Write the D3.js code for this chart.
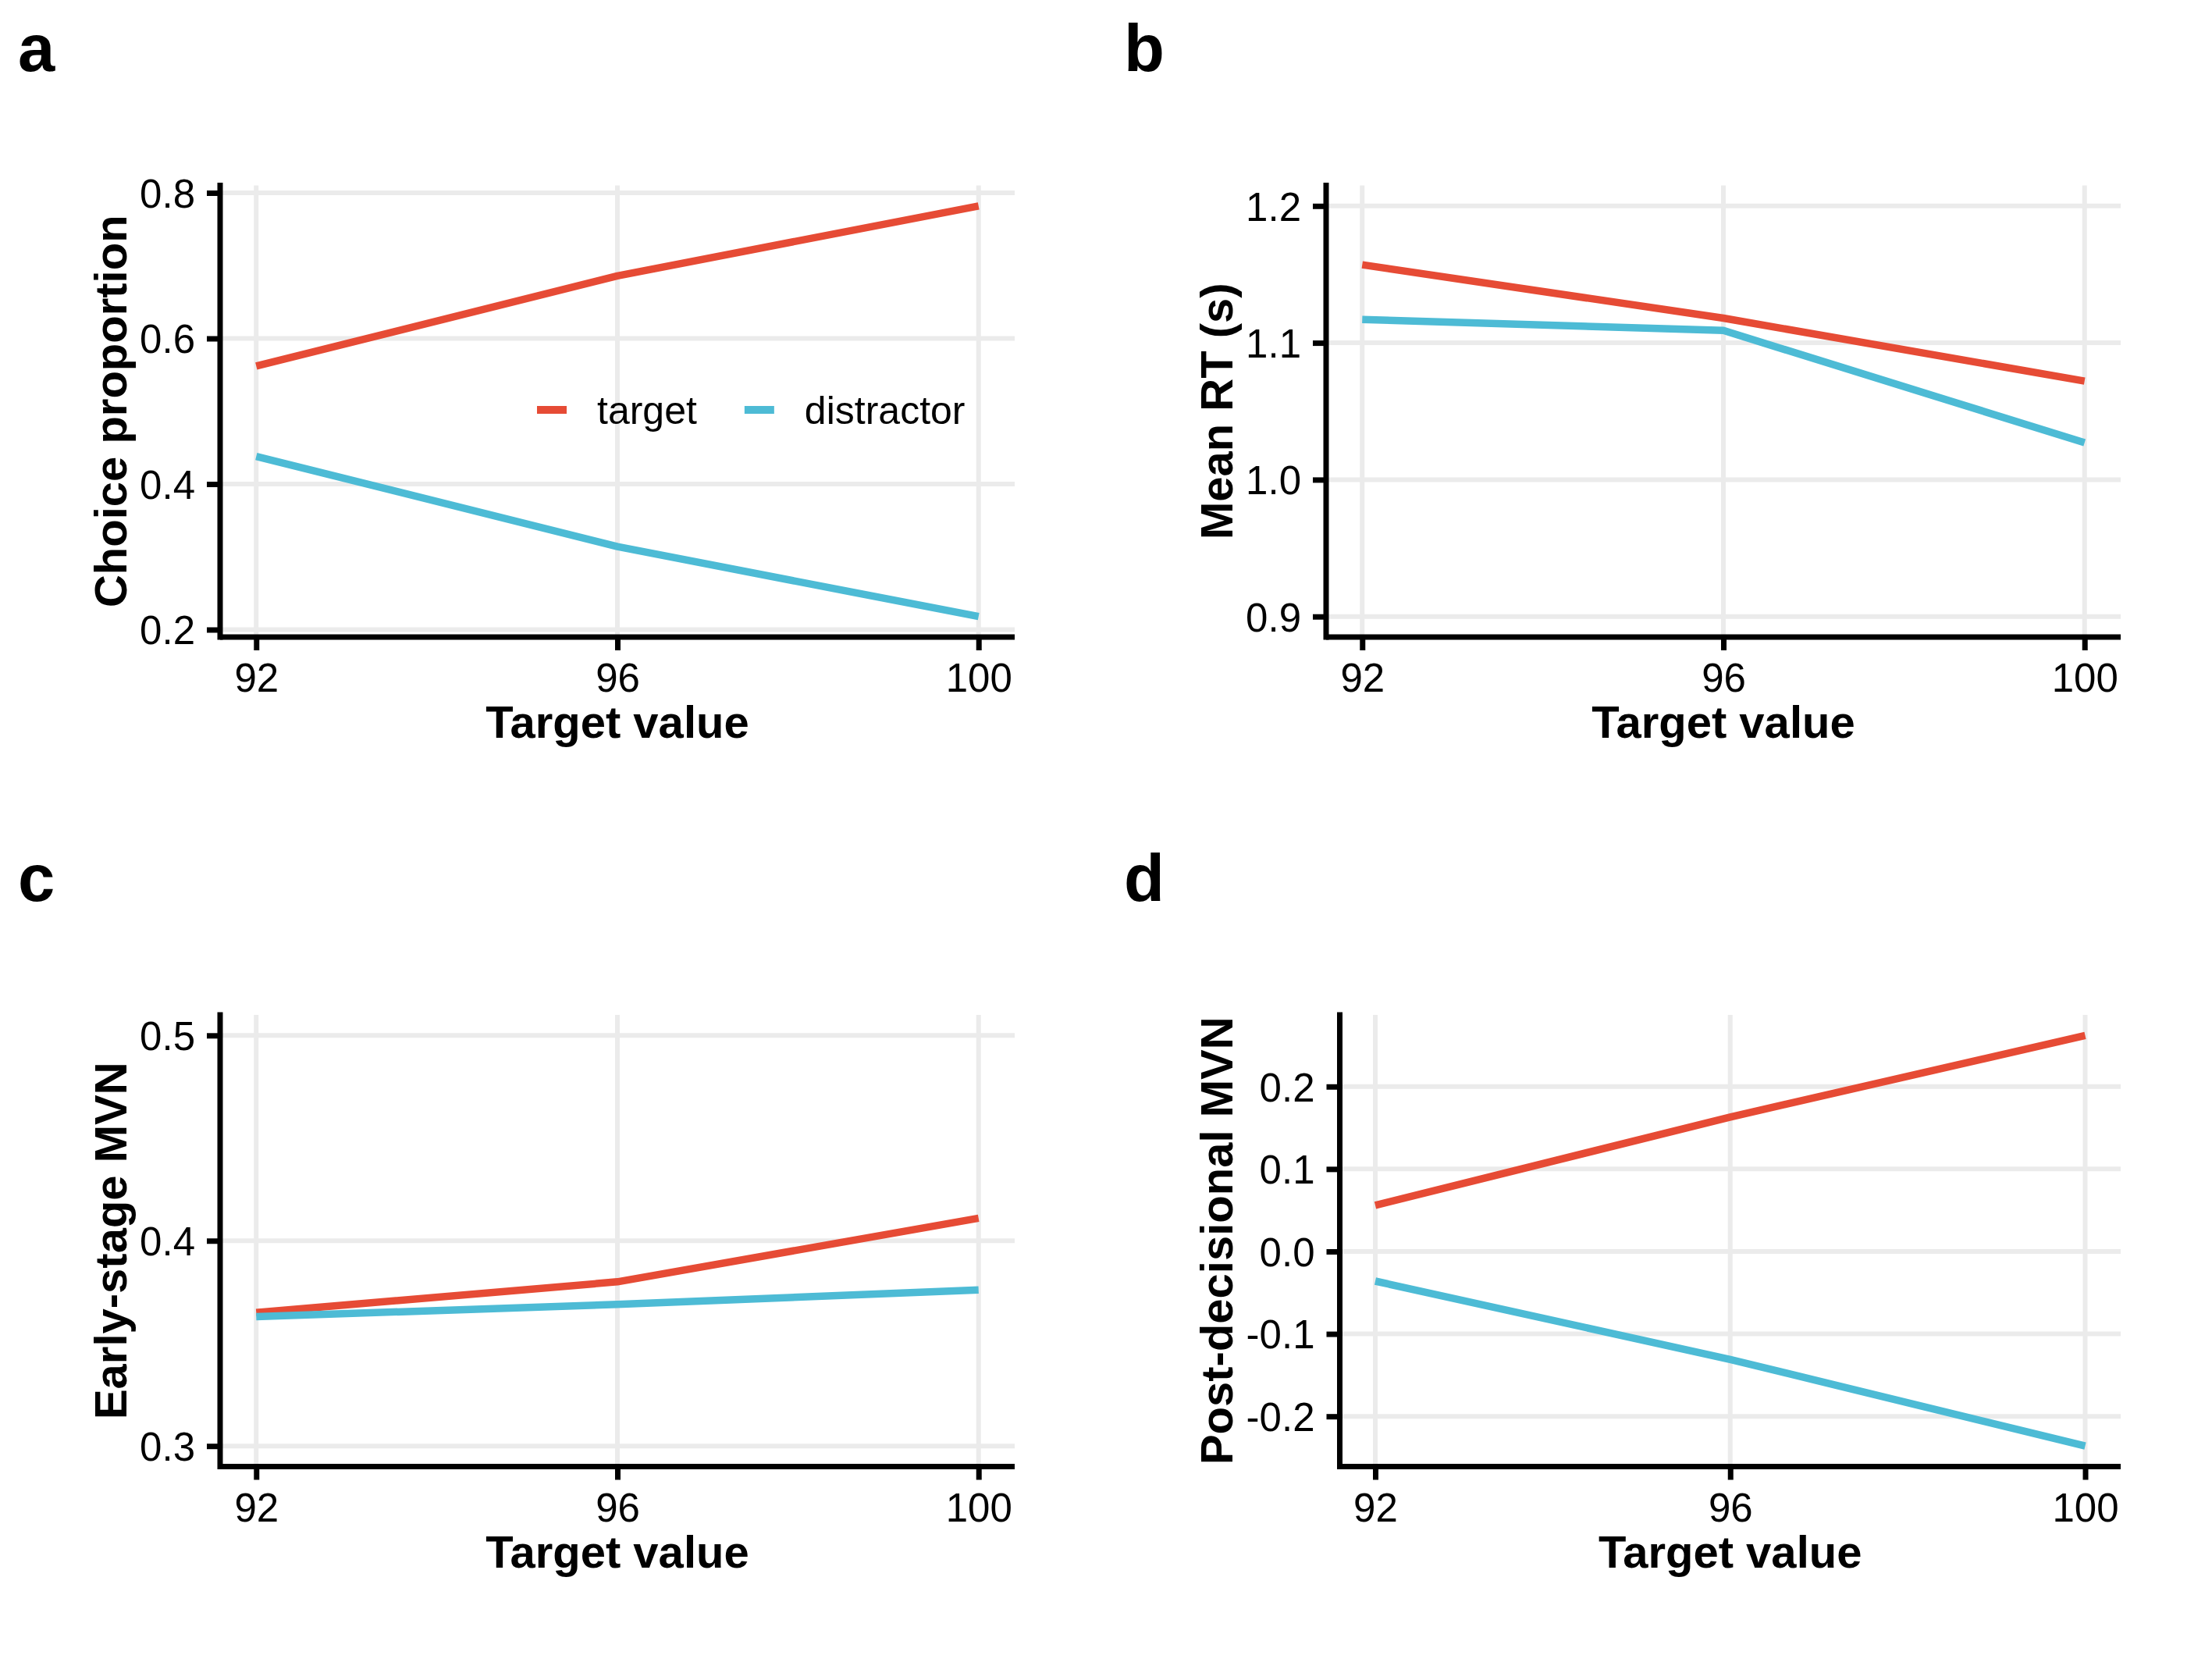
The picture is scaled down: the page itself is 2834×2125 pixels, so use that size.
<!DOCTYPE html>
<html><head><meta charset="utf-8">
<script src="https://cdn.jsdelivr.net/npm/d3@7"></script>
<style>body{margin:0;background:#fff} svg{display:block}</style>
</head><body>
<svg id="chart" width="2834" height="2125"></svg>
<script>
// ---- data ----
const targetValues = [92, 96, 100];
const seriesNames = ["target", "distractor"];
const panelLabels = ["a", "b", "c", "d"];
const yTitles = ["Choice proportion", "Mean RT (s)", "Early-stage MVN", "Post-decisional MVN"];
const xTitle = "Target value";

const choiceTarget = [0.562, 0.686, 0.782];
const choiceDistractor = [0.438, 0.314, 0.218];
const rtTarget = [1.157, 1.118, 1.072];
const rtDistractor = [1.117, 1.109, 1.027];
const earlyTarget = [0.365, 0.380, 0.411];
const earlyDistractor = [0.363, 0.369, 0.376];
const postTarget = [0.056, 0.163, 0.262];
const postDistractor = [-0.036, -0.131, -0.236];

const choiceTicks = [0.2, 0.4, 0.6, 0.8];
const rtTicks = [0.9, 1.0, 1.1, 1.2];
const earlyTicks = [0.3, 0.4, 0.5];
const postTicks = [-0.2, -0.1, 0.0, 0.1, 0.2];
const rtLimits = [0.9, 1.2];
const earlyLimits = [0.3, 0.5];

// ---- styling ----
const colors = {target: "#E64B35", distractor: "#4DBBD5"};
const FONT = "'Liberation Sans', Arial, Helvetica, sans-serif";
const panelW = 1417, panelH = 1062.5;
const plotTop = 237.5, plotBottom = 816, plotRight = 1300;
const fmt = d3.formatLocale({decimal: ".", thousands: ",", grouping: [3], currency: ["", ""], minus: "-"}).format(".1f");

function expand(lo, hi) { const r = hi - lo; return [lo - 0.05 * r, hi + 0.05 * r]; }

const panels = [
  {col: 0, row: 0, tgt: choiceTarget, dis: choiceDistractor, ticks: choiceTicks, limits: null, axisX: 282, legend: true},
  {col: 1, row: 0, tgt: rtTarget, dis: rtDistractor, ticks: rtTicks, limits: rtLimits, axisX: 282},
  {col: 0, row: 1, tgt: earlyTarget, dis: earlyDistractor, ticks: earlyTicks, limits: earlyLimits, axisX: 282},
  {col: 1, row: 1, tgt: postTarget, dis: postDistractor, ticks: postTicks, limits: null, axisX: 299.5}
];

const svg = d3.select("#chart");
svg.append("rect").attr("width", 2834).attr("height", 2125).attr("fill", "#fff");

panels.forEach((p, i) => {
  const g = svg.append("g").attr("transform", `translate(${p.col * panelW},${p.row * panelH})`);
  const all = p.tgt.concat(p.dis);
  const dom = p.limits ? expand(p.limits[0], p.limits[1]) : expand(d3.min(all), d3.max(all));
  const x = d3.scaleLinear().domain(expand(targetValues[0], targetValues[targetValues.length - 1])).range([p.axisX, plotRight]);
  const y = d3.scaleLinear().domain(dom).range([plotBottom, plotTop]);

  // grid
  const grid = g.append("g").attr("stroke", "#EBEBEB").attr("stroke-width", 6);
  grid.selectAll("line.h").data(p.ticks).join("line").attr("class", "h")
    .attr("x1", p.axisX).attr("x2", plotRight).attr("y1", d => y(d)).attr("y2", d => y(d));
  grid.selectAll("line.v").data(targetValues).join("line").attr("class", "v")
    .attr("x1", d => x(d)).attr("x2", d => x(d)).attr("y1", plotTop).attr("y2", plotBottom);

  // series lines
  const line = d3.line().x((d, j) => x(targetValues[j])).y(d => y(d));
  [["target", p.tgt], ["distractor", p.dis]].forEach(([name, vals]) => {
    g.append("path").datum(vals).attr("d", line).attr("fill", "none")
      .attr("stroke", colors[name]).attr("stroke-width", 9.5)
      .attr("stroke-linejoin", "round").attr("stroke-linecap", "butt");
  });

  // axes
  const yAxis = d3.axisLeft(y).tickValues(p.ticks).tickFormat(fmt).tickSizeInner(17).tickSizeOuter(0).tickPadding(15);
  const ya = g.append("g").attr("transform", `translate(${p.axisX},0)`).call(yAxis);
  const xAxis = d3.axisBottom(x).tickValues(targetValues).tickFormat(d3.format("d")).tickSizeInner(17).tickSizeOuter(0).tickPadding(17);
  const xa = g.append("g").attr("transform", `translate(0,${plotBottom})`).call(xAxis);
  [ya, xa].forEach(a => {
    a.select(".domain").remove();
    a.selectAll(".tick line").attr("stroke", "#000").attr("stroke-width", 7);
    a.selectAll(".tick text").attr("fill", "#000").style("font-family", FONT).style("font-size", "51px");
  });
  ya.selectAll(".tick text").attr("dy", "0.36em");

  g.append("line").attr("x1", p.axisX).attr("x2", p.axisX).attr("y1", plotTop).attr("y2", plotBottom)
    .attr("stroke", "#000").attr("stroke-width", 7).attr("stroke-linecap", "square");
  g.append("line").attr("x1", p.axisX).attr("x2", plotRight).attr("y1", plotBottom).attr("y2", plotBottom)
    .attr("stroke", "#000").attr("stroke-width", 7);

  // titles
  g.append("text").attr("x", (p.axisX + plotRight) / 2).attr("y", plotBottom + 129)
    .attr("text-anchor", "middle").style("font-family", FONT).style("font-size", "58px").style("font-weight", "bold")
    .text(xTitle);
  g.append("text").attr("transform", `translate(162,${(plotTop + plotBottom) / 2}) rotate(-90)`)
    .attr("text-anchor", "middle").style("font-family", FONT).style("font-size", "58px").style("font-weight", "bold")
    .text(yTitles[i]);
  g.append("text").attr("x", 23).attr("y", 91)
    .style("font-family", FONT).style("font-size", "85px").style("font-weight", "bold")
    .text(panelLabels[i]);

  // legend
  if (p.legend) {
    const lg = g.append("g");
    let cx = 688;
    const ly = 525;
    seriesNames.forEach(name => {
      lg.append("line").attr("x1", cx).attr("x2", cx + 38).attr("y1", ly).attr("y2", ly)
        .attr("stroke", colors[name]).attr("stroke-width", 10);
      const t = lg.append("text").attr("x", cx + 77).attr("y", ly + 18)
        .style("font-family", FONT).style("font-size", "50px").attr("fill", "#000").text(name);
      cx = cx + 77 + t.node().getComputedTextLength() + 61;
    });
  }
});
</script>
</body></html>
